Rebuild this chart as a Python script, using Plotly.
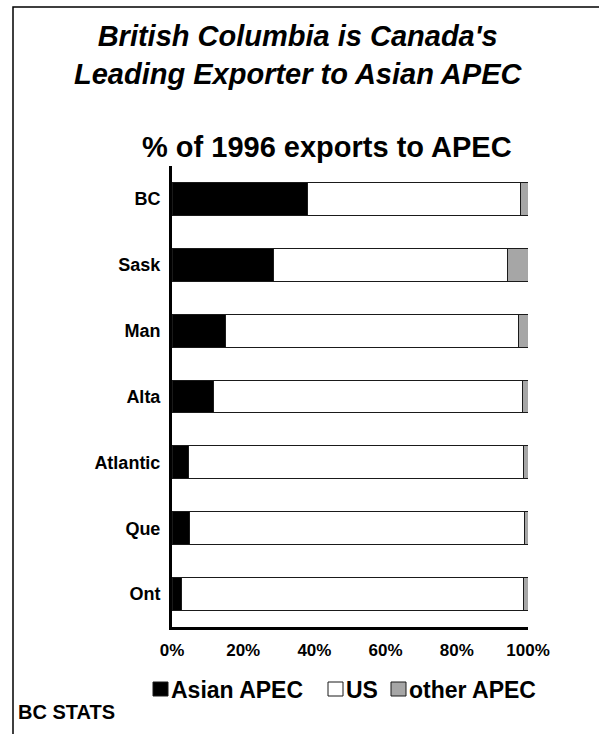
import plotly.graph_objects as go

# Share of 1996 provincial exports to APEC destinations (%)
provinces = ["BC", "Sask", "Man", "Alta", "Atlantic", "Que", "Ont"]
asian_apec = [38.1, 28.5, 14.9, 11.7, 4.7, 4.9, 2.6]
us = [59.8, 65.8, 82.5, 86.7, 94.1, 94.2, 96.2]
other_apec = [2.1, 5.7, 2.6, 1.6, 1.2, 0.9, 1.2]

series_names = ["Asian APEC", "US", "other APEC"]
series_colors = ["#000000", "#ffffff", "#a6a6a6"]

x_ticks = [0, 20, 40, 60, 80, 100]
x_tick_labels = ["0%", "20%", "40%", "60%", "80%", "100%"]

FONT = "Arial, 'Liberation Sans', sans-serif"
W, H = 599, 734
ML, MR, MT, MB = 172, 71, 166, 107
PW, PH = W - ML - MR, H - MT - MB


def px(x):
    """Page x pixel -> paper coordinate."""
    return (x - ML) / PW


def py(y):
    """Page y pixel (from top) -> paper coordinate."""
    return (H - MB - y) / PH


fig = go.Figure()
for name, vals, color in zip(series_names, [asian_apec, us, other_apec], series_colors):
    fig.add_trace(go.Bar(
        y=provinces, x=vals, name=name, orientation="h",
        marker=dict(color=color, line=dict(color="#1a1a1a", width=1)),
    ))

fig.update_layout(
    width=W, height=H,
    barmode="stack", bargap=0.5,
    plot_bgcolor="white", paper_bgcolor="white",
    margin=dict(l=ML, r=MR, t=MT, b=MB),
    font=dict(family=FONT, color="black"),
    showlegend=False,
    xaxis=dict(
        range=[0, 100], tickvals=x_ticks, ticktext=x_tick_labels,
        showgrid=False, zeroline=False,
        showline=True, linecolor="black", linewidth=3,
        ticks="outside", ticklen=6, tickcolor="rgba(0,0,0,0)",
        tickfont=dict(size=17, family=FONT, weight="bold"),
    ),
    yaxis=dict(
        categoryorder="array", categoryarray=provinces, autorange="reversed",
        showgrid=False, zeroline=False,
        showline=True, linecolor="black", linewidth=3,
        ticks="outside", ticklen=5, tickcolor="rgba(0,0,0,0)",
        tickfont=dict(size=18, family=FONT, weight="bold"),
    ),
)

# Page frame (only the top and left edges fall inside the page)
fig.add_shape(type="rect", xref="paper", yref="paper",
              x0=px(13), x1=px(W + 40), y0=py(H + 40), y1=py(7),
              line=dict(color="black", width=1.5), fillcolor="rgba(0,0,0,0)",
              layer="below")

fig.add_annotation(
    text="<b><i>British Columbia is Canada's<br>Leading Exporter to Asian APEC</i></b>",
    xref="paper", yref="paper", x=px(298), y=py(55),
    xanchor="center", yanchor="middle", showarrow=False,
    font=dict(size=29, family=FONT), align="center",
)
fig.add_annotation(
    text="<b>% of 1996 exports to APEC</b>",
    xref="paper", yref="paper", x=px(327), y=py(147),
    xanchor="center", yanchor="middle", showarrow=False,
    font=dict(size=29, family=FONT),
)
fig.add_annotation(
    text="<b>BC STATS</b>",
    xref="paper", yref="paper", x=px(16), y=py(712),
    xanchor="left", yanchor="middle", showarrow=False,
    font=dict(size=20, family=FONT),
)

# Legend: colour swatch followed by series name
legend_swatch_x = [153, 328, 391]
legend_text_x = [169, 344, 407]
LEG_Y, SW = 689, 15
for name, color, sx, tx in zip(series_names, series_colors, legend_swatch_x, legend_text_x):
    fig.add_shape(type="rect", xref="paper", yref="paper",
                  x0=px(sx), x1=px(sx + SW), y0=py(LEG_Y + 7), y1=py(LEG_Y - 7),
                  line=dict(color="#1a1a1a", width=1), fillcolor=color)
    fig.add_annotation(
        text=f"<b>{name}</b>", xref="paper", yref="paper", x=px(tx), y=py(LEG_Y + 1),
        xanchor="left", yanchor="middle", showarrow=False,
        font=dict(size=23, family=FONT),
    )

fig.write_html("out.html")
